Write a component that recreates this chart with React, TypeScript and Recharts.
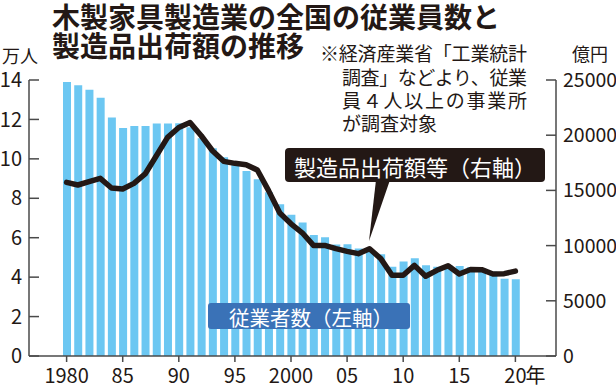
import React from "react";
import { ComposedChart, Bar, Line, XAxis, YAxis } from "recharts";

const years = [
  1980, 1981, 1982, 1983, 1984, 1985, 1986, 1987, 1988, 1989,
  1990, 1991, 1992, 1993, 1994, 1995, 1996, 1997, 1998, 1999,
  2000, 2001, 2002, 2003, 2004, 2005, 2006, 2007, 2008, 2009,
  2010, 2011, 2012, 2013, 2014, 2015, 2016, 2017, 2018, 2019, 2020,
];

// 従業者数 (万人)
const workers = [
  13.9, 13.74, 13.5, 13.1, 12.1, 11.57, 11.67, 11.67, 11.79, 11.79,
  11.8, 11.6, 11.05, 10.54, 10.08, 9.7, 9.39, 8.97, 8.3, 7.7,
  7.16, 6.77, 6.14, 6.02, 5.65, 5.67, 5.45, 5.35, 5.16, 4.53,
  4.79, 4.96, 4.6, 4.53, 4.6, 4.57, 4.5, 4.45, 4.28, 3.92, 3.89,
];

// 製造品出荷額等 (億円)
const shipments = [
  15730, 15490, 15790, 16090, 15220, 15130, 15640, 16490, 18140, 19800,
  20700, 21150, 19950, 18590, 17630, 17450, 17330, 16850, 14980, 12950,
  11970, 11160, 10020, 10020, 9720, 9480, 9270, 9720, 8820, 7310,
  7310, 8210, 7220, 7760, 8180, 7430, 7830, 7820, 7430, 7460, 7690,
];

const leftTicks = [0, 2, 4, 6, 8, 10, 12, 14];
const rightTicks = [0, 5000, 10000, 15000, 20000, 25000];
const xLabels: Record<number, string> = {
  1980: "1980", 1985: "85", 1990: "90", 1995: "95", 2000: "2000",
  2005: "05", 2010: "10", 2015: "15", 2020: "20",
};

const titleLines = ["木製家具製造業の全国の従業員数と", "製造品出荷額の推移"];
const noteLines = ["※経済産業省「工業統計", "調査」などより、従業", "員４人以上の事業所", "が調査対象"];

const data = years.map((y, i) => ({ year: y, workers: workers[i], shipments: shipments[i] }));

const font = "'Noto Sans CJK JP', 'Noto Sans', sans-serif";
const ink = "#231815";
const axisColor = "#4a4a4a";
const tickStyle = { fontSize: 20, fill: ink, fontFamily: font };

function YearTick(props: any) {
  const { x, y, payload } = props;
  const label = xLabels[payload.value];
  if (!label) return null;
  return (
    <g>
      <text x={x} y={y} dy="0.71em" textAnchor="middle" {...tickStyle}>
        {label}
      </text>
      {payload.value === 2020 && (
        <text x={x + 10} y={y} dy="0.71em" textAnchor="start" {...tickStyle}>
          年
        </text>
      )}
    </g>
  );
}

export default function App() {
  return (
    <div style={{ position: "relative", width: 616, height: 390, background: "#fff" }}>
      <style>{"body{margin:0}"}</style>
      <ComposedChart
        width={616}
        height={390}
        data={data}
        margin={{ top: 80, right: 0, bottom: 0, left: 0 }}
      >
        <XAxis
          dataKey="year"
          interval={4}
          height={34}
          padding={{ left: 32, right: 35 }}
          stroke={axisColor}
          strokeWidth={1.5}
          tickSize={6}
          tickMargin={7}
          tick={<YearTick />}
        />
        <YAxis
          yAxisId="left"
          orientation="left"
          width={29}
          domain={[0, 14]}
          ticks={leftTicks}
          stroke={axisColor}
          strokeWidth={1.5}
          tickSize={-10}
          tickMargin={17}
          tick={tickStyle}
        />
        <YAxis
          yAxisId="right"
          orientation="right"
          width={60}
          domain={[0, 25000]}
          ticks={rightTicks}
          stroke={axisColor}
          strokeWidth={1.5}
          tickSize={-10}
          tickMargin={17}
          tick={{ ...tickStyle, fontSize: 19.5, textAnchor: "start" }}
        />
        <Bar yAxisId="left" dataKey="workers" fill="#6cc7f2" barSize={8} isAnimationActive={false} />
        <Line
          yAxisId="right"
          dataKey="shipments"
          type="linear"
          stroke={ink}
          strokeWidth={5.5}
          strokeLinejoin="round"
          strokeLinecap="round"
          dot={false}
          activeDot={false}
          isAnimationActive={false}
        />
      </ComposedChart>

      <svg
        width={616}
        height={390}
        style={{ position: "absolute", left: 0, top: 0, pointerEvents: "none" }}
        fontFamily={font}
      >
        {titleLines.map((t, i) => (
          <text key={t} x={52} y={16 + i * 29} dominantBaseline="central" fontSize={28} fontWeight={700} fill={ink}>
            {t}
          </text>
        ))}
        <text x={2} y={55} dominantBaseline="central" fontSize={18} fill={ink}>万人</text>
        <text x={572} y={53} dominantBaseline="central" fontSize={18} fill={ink}>億円</text>

        <text x={320} y={52} dominantBaseline="central" fontSize={19} fill={ink} textLength={207} lengthAdjust="spacing">
          {noteLines[0]}
        </text>
        <text x={342} y={76} dominantBaseline="central" fontSize={19} fill={ink} textLength={185} lengthAdjust="spacing">
          {noteLines[1]}
        </text>
        <text x={342} y={99} dominantBaseline="central" fontSize={19} fill={ink} textLength={185} lengthAdjust="spacing">
          {noteLines[2]}
        </text>
        <text x={342} y={122} dominantBaseline="central" fontSize={19} fill={ink}>
          {noteLines[3]}
        </text>

        {/* callout: shipments */}
        <rect x={285} y={148} width={260} height={34} rx={4} fill={ink} />
        <path d="M376 180 L390 180 L369 241 Z" fill={ink} />
        <text x={415} y={165.5} dominantBaseline="central" textAnchor="middle" fontSize={22} fill="#fff">
          製造品出荷額等（右軸）
        </text>

        {/* callout: workers */}
        <rect x={208} y={303} width={202} height={26} rx={3} fill="#3a72b7" />
        <text x={311} y={316.5} dominantBaseline="central" textAnchor="middle" fontSize={20.5} fill="#fff">
          従業者数（左軸）
        </text>
      </svg>
    </div>
  );
}
